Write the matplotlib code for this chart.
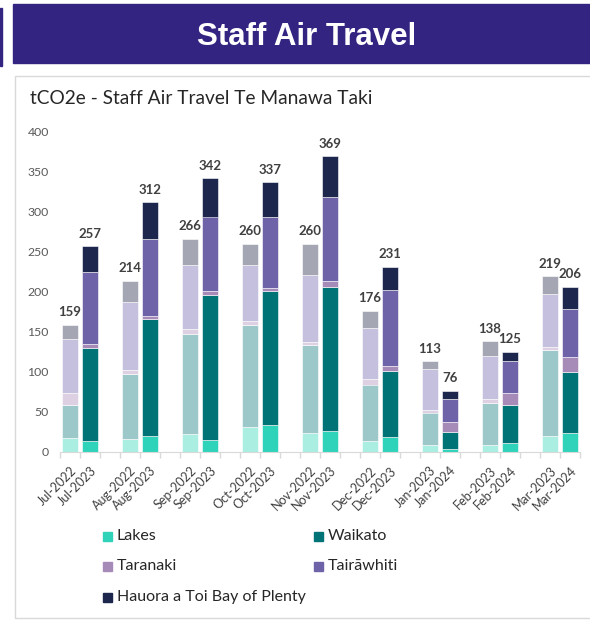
import numpy as np
import matplotlib
matplotlib.use('Agg')
import matplotlib.pyplot as plt
from matplotlib.patches import Rectangle

months = ['Jul', 'Aug', 'Sep', 'Oct', 'Nov', 'Dec', 'Jan', 'Feb', 'Mar']
prev_labels = ['Jul-2022', 'Aug-2022', 'Sep-2022', 'Oct-2022', 'Nov-2022', 'Dec-2022', 'Jan-2023', 'Feb-2023', 'Mar-2023']
curr_labels = ['Jul-2023', 'Aug-2023', 'Sep-2023', 'Oct-2023', 'Nov-2023', 'Dec-2023', 'Jan-2024', 'Feb-2024', 'Mar-2024']
regions = ['Lakes', 'Waikato', 'Taranaki', 'Tairāwhiti', 'Hauora a Toi Bay of Plenty']

# previous year (2022/23), tCO2e per region
prev_lakes = [17.5, 16, 22, 31, 23, 13, 8, 8, 20]
prev_waikato = [41.5, 81, 125.5, 127, 110, 71, 41, 53, 107]
prev_taranaki = [14, 5, 5.5, 5, 4.5, 7, 3, 5, 4]
prev_tairawhiti = [68, 85.5, 80, 70, 83.5, 64, 52, 54, 66]
prev_bop = [18, 26.5, 33, 27, 39, 21, 9, 18, 22]

# current year (2023/24)
curr_lakes = [14, 20, 15, 33, 26, 18, 3, 11, 24]
curr_waikato = [116, 146, 181, 168, 180, 83, 22, 48, 76]
curr_taranaki = [5, 4, 4.5, 4, 7, 6.5, 12, 15, 18]
curr_tairawhiti = [90, 96, 93.5, 89, 105, 94.5, 29, 40, 60]
curr_bop = [32, 46, 48, 43, 51, 29, 10, 11, 28]

dark_cols = ['#2ed3ba', '#007377', '#a68bb8', '#6e62a8', '#1d264d']
light_cols = ['#a9eee1', '#9cc8c9', '#ddd0e2', '#c5c0dd', '#a4a6b3']

plt.rcParams['font.family'] = ['Lato', 'DejaVu Sans']

W, H = 590, 620
fig = plt.figure(figsize=(5.9, 6.2), dpi=100)

def px(x, y):
    # pixel (from top left) -> figure fraction
    return x / W, 1 - y / H

# header banner
fig.patches.append(Rectangle(px(13, 63), 577 / W, 59 / H,
                             transform=fig.transFigure, color='#332482', zorder=0))
fig.patches.append(Rectangle(px(0, 66), 2 / W, 58 / H,
                             transform=fig.transFigure, color='#332482', zorder=0))
fig.text(*px(306.5, 45), 'Staff Air Travel', color='white', fontsize=22.5,
         fontweight='bold', family='Liberation Sans', ha='center', va='baseline')

# chart box
fig.patches.append(Rectangle(px(15, 618), 580 / W, 542 / H,
                             transform=fig.transFigure, facecolor='white',
                             edgecolor='#d9d9d9', lw=1, zorder=0))
fig.text(*px(30, 104.5), 'tCO2e - Staff Air Travel Te Manawa Taki',
         fontsize=13.8, color='#262626', va='baseline', ha='left')

ax = fig.add_axes([60 / W, 168.3 / H, 520 / W, 320 / H])
ax.set_zorder(2)
ax.patch.set_alpha(0)

prev = [prev_lakes, prev_waikato, prev_taranaki, prev_tairawhiti, prev_bop]
curr = [curr_lakes, curr_waikato, curr_taranaki, curr_tairawhiti, curr_bop]

idx = np.arange(len(months))
x_prev = idx * 3
x_curr = idx * 3 + 1
w = 0.8

bottom = np.zeros(len(months))
for vals, c in zip(prev, light_cols):
    ax.bar(x_prev, vals, w, bottom=bottom, color=c, edgecolor='white', linewidth=0.4)
    bottom += np.array(vals)
prev_tot = bottom.copy()

bottom = np.zeros(len(months))
for vals, c in zip(curr, dark_cols):
    ax.bar(x_curr, vals, w, bottom=bottom, color=c, edgecolor='white', linewidth=0.4)
    bottom += np.array(vals)
curr_tot = bottom.copy()

for xs, tots in [(x_prev, prev_tot), (x_curr, curr_tot)]:
    for x, t in zip(xs, tots):
        ax.text(x, t + 8, str(int(round(t))), ha='center', va='bottom',
                fontsize=9.5, fontweight='bold', color='#404040')

ax.set_xlim(-0.5, 25.5)
ax.set_ylim(0, 400)
ax.set_yticks(np.arange(0, 401, 50))
ax.tick_params(axis='y', length=0, labelsize=8.8, labelcolor='#595959', pad=8)

pos = list(x_prev) + list(x_curr)
labs = prev_labels + curr_labels
ax.set_xticks(pos)
ax.set_xticklabels(labs, rotation=45, ha='right', rotation_mode='anchor',
                   fontsize=9, color='#404040')
ax.tick_params(axis='x', length=0, pad=9)
# category boundary ticks
ax.set_xticks(np.arange(-0.5, 26, 1), minor=True)
ax.tick_params(axis='x', which='minor', length=4, color='#d9d9d9', width=1)

for s in ['top', 'right', 'left']:
    ax.spines[s].set_visible(False)
ax.spines['bottom'].set_color('#d9d9d9')

# legend, laid out row by row like the original
leg_pos = [(103, 536), (314, 536), (103, 566), (314, 566), (103, 597)]
for (lx, ly), name, c in zip(leg_pos, regions, dark_cols):
    fig.patches.append(Rectangle(px(lx, ly + 4.5), 9 / W, 9 / H,
                                 transform=fig.transFigure, color=c, zorder=3))
    fig.text(*px(lx + 14, ly), name, fontsize=11.5, color='#262626',
             va='center', ha='left')

fig.savefig('out.png', dpi=100)
